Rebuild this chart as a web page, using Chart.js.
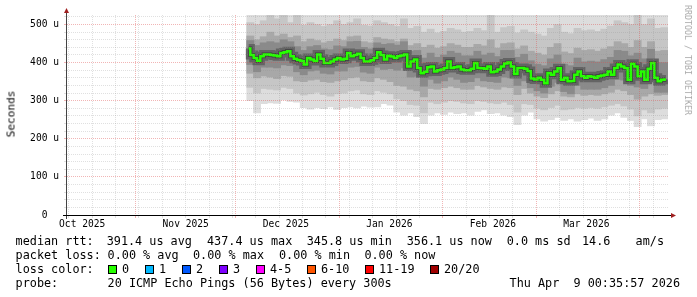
<!DOCTYPE html>
<html>
<head>
<meta charset="utf-8">
<title>SmokePing latency</title>
<script src="https://cdn.jsdelivr.net/npm/chart.js@4.4.1/dist/chart.umd.min.js"></script>
<style>
body { margin: 0; background: #fff; }
#wrap { position: relative; width: 697px; height: 297px; overflow: hidden; background: #fff;
        font-family: 'DejaVu Sans Mono', monospace; color: #000; }
#chart { position: absolute; left: 0; top: 0; }
.t { position: absolute; white-space: pre; font-size: 11.8px; line-height: 14px; }
.box { position: absolute; width: 7px; height: 7px; border: 1px solid #000; }
#ylabel { position: absolute; left: 11px; top: 114px; font-size: 11.1px; white-space: pre; color: #000;
          transform: translate(-50%, -50%) rotate(-90deg); }
#credit { position: absolute; left: 688px; top: 60px; font-size: 8.3px; color: #aaa; white-space: pre;
          transform: translate(-50%, -50%) rotate(90deg); }
</style>
</head>
<body>
<div id="wrap">
  <canvas id="chart" width="697" height="297"></canvas>
  <div id="ylabel">Seconds</div>
  <div id="credit">RRDTOOL / TOBI OETIKER</div>
</div>
<script>
// x values are days since 1 Oct 2025 (local time), the graph shows 180 days
const xMin = 10.45;
const xMax = 190.45;
const yMax = 525; // us, upper limit of the graph

const monthStarts = [31, 61, 92, 123, 151, 182];
const weekStarts = [11, 18, 25, 32, 39, 46, 53, 60, 67, 74, 81, 88, 95, 102, 109, 116,
                    130, 137, 144, 158, 165, 172, 179, 186];
const monthLabelDays = [15, 46, 76, 107, 138, 166];
const monthLabels = ['Oct 2025', 'Nov 2025', 'Dec 2025', 'Jan 2026', 'Feb 2026', 'Mar 2026'];
const yGridValues = [0, 20, 40, 60, 80, 100, 120, 140, 160, 180, 200, 220, 240, 260, 280,
                     300, 320, 340, 360, 380, 400, 420, 440, 460, 480, 500, 520];
const yLabelValues = [0, 100, 200, 300, 400, 500];

// median rtt (us), one sample per day starting 4 Dec 2025
const medianFirstDay = 64.86;
const median = [
  437, 420, 412, 405, 417, 421, 421, 420, 419, 417,
  425, 427, 430, 417, 410, 407, 404, 395, 412, 408,
  404, 421, 410, 399, 399, 403, 408, 412, 408, 410,
  425, 417, 420, 423, 412, 403, 403, 406, 412, 427,
  420, 408, 418, 416, 412, 417, 419, 421, 390, 403,
  408, 386, 372, 376, 388, 390, 377, 380, 382, 386,
  403, 386, 388, 390, 382, 380, 380, 384, 399, 386,
  385, 384, 390, 375, 377, 382, 390, 398, 400, 390,
  370, 386, 386, 384, 378, 358, 356, 360, 355, 346,
  373, 368, 377, 385, 355, 360, 351, 352, 368, 377,
  364, 360, 364, 363, 360, 364, 366, 368, 377, 368,
  386, 395, 390, 386, 355, 397, 390, 364, 377, 355,
  384, 399, 360, 351, 355, 356
];

// smoke (spread of the 20 pings, us), one column per two days
const smokeFirstDay = 65.36;
const pingMin = [
  300, 268, 292, 294, 293, 302, 298, 296, 282, 278,
  282, 279, 284, 277, 282, 284, 281, 286, 283, 284,
  292, 288, 270, 262, 268, 258, 240, 262, 268, 264,
  270, 266, 268, 262, 272, 276, 266, 268, 262, 258,
  237, 262, 270, 252, 246, 250, 256, 248, 252, 246,
  250, 254, 248, 252, 262, 268, 256, 248, 232, 252,
  234, 250, 252
];
const outerLow = [
  335, 320, 332, 330, 328, 335, 332, 320, 315, 318,
  322, 316, 312, 318, 320, 326, 328, 318, 316, 326,
  322, 318, 305, 300, 290, 288, 268, 296, 292, 296,
  300, 298, 294, 292, 300, 298, 294, 292, 296, 290,
  270, 292, 290, 280, 276, 282, 288, 276, 278, 282,
  280, 282, 280, 284, 288, 292, 286, 278, 260, 276,
  268, 278, 280
];
const outerHigh = [
  505, 500, 510, 525, 515, 525, 505, 525, 498, 505,
  500, 495, 500, 510, 500, 505, 515, 498, 496, 510,
  505, 500, 495, 515, 490, 495, 480, 488, 478, 482,
  490, 486, 480, 482, 490, 484, 525, 480, 492, 495,
  478, 486, 480, 475, 470, 490, 500, 480, 476, 490,
  484, 486, 482, 488, 496, 510, 505, 500, 525, 500,
  515, 490, 492
];
const midLow = [
  372, 360, 365, 362, 358, 366, 364, 352, 350, 354,
  356, 350, 348, 352, 355, 360, 362, 352, 350, 360,
  356, 350, 340, 338, 330, 326, 310, 332, 330, 334,
  338, 334, 330, 330, 340, 336, 332, 330, 336, 334,
  316, 332, 320, 312, 308, 318, 326, 312, 310, 318,
  314, 316, 314, 318, 322, 330, 326, 316, 304, 312,
  318, 314, 316
];
const midHigh = [
  470, 460, 468, 480, 470, 475, 466, 470, 455, 462,
  458, 452, 456, 462, 458, 468, 470, 455, 452, 466,
  462, 460, 455, 462, 445, 450, 440, 446, 438, 442,
  450, 446, 440, 440, 448, 444, 460, 438, 450, 452,
  436, 444, 430, 425, 420, 440, 450, 428, 424, 438,
  432, 434, 430, 436, 442, 455, 450, 440, 458, 440,
  455, 430, 432
];
const innerLow = [
  395, 376, 388, 388, 386, 394, 392, 376, 368, 378,
  380, 372, 370, 378, 378, 388, 390, 375, 372, 388,
  382, 384, 380, 386, 362, 364, 338, 356, 346, 352,
  362, 356, 348, 350, 360, 352, 350, 348, 362, 360,
  340, 352, 334, 326, 320, 338, 348, 324, 318, 340,
  330, 330, 330, 334, 340, 356, 354, 340, 336, 332,
  354, 322, 322
];
const innerHigh = [
  458, 445, 452, 455, 452, 460, 455, 442, 432, 442,
  445, 436, 434, 444, 442, 455, 456, 440, 436, 452,
  448, 450, 446, 455, 430, 432, 412, 425, 414, 420,
  430, 425, 418, 418, 430, 420, 425, 416, 432, 432,
  414, 422, 405, 396, 392, 410, 420, 396, 392, 412,
  402, 404, 402, 408, 414, 432, 430, 418, 425, 410,
  435, 400, 400
];

const rttStats = ['median rtt:', '391.4 us avg', '437.4 us max', '345.8 us min',
                  '356.1 us now', '0.0 ms sd', '14.6', 'am/s'];
const lossStats = ['packet loss:', '0.00 % avg', '0.00 % max', '0.00 % min', '0.00 % now'];
const lossColorLabels = ['0', '1', '2', '3', '4-5', '6-10', '11-19', '20/20'];
const lossColors = ['#26ff00', '#00b8ff', '#0059ff', '#7e00ff', '#ff00fe', '#ff5500', '#ff0000', '#a00000'];
const probeText = '20 ICMP Echo Pings (56 Bytes) every 300s';
const stampText = 'Thu Apr  9 00:35:57 2026';

const minorGrid = 'rgba(143,143,143,0.28)';
const majorGrid = 'rgba(222,79,79,0.42)';
const monoFont = { family: "'DejaVu Sans Mono'", size: 9.6 };

const xTicks = []
  .concat(weekStarts.map(v => ({ value: v, kind: 'week' })))
  .concat(monthStarts.map(v => ({ value: v, kind: 'month' })))
  .concat(monthLabelDays.map((v, i) => ({ value: v, kind: 'label', text: monthLabels[i] })))
  .sort((a, b) => a.value - b.value);

const medianPts = median.map((v, i) => ({ x: medianFirstDay + i, y: v }));
function band(lo, hi) {
  return lo.map((v, k) => ({ x: smokeFirstDay + 2 * k, y: [v, Array.isArray(hi) ? hi[k] : hi] }));
}
function smokeBar(data, color, order) {
  // one column = two days (about 6.7 px), slightly wider so neighbours overlap
  return { type: 'bar', data: data, backgroundColor: color, borderWidth: 0, grouped: false,
           barThickness: 7.2, order: order };
}
function medianLine(color, width, order) {
  return { type: 'line', data: medianPts, borderColor: color, borderWidth: width, pointRadius: 0,
           stepped: 'middle', fill: false, borderJoinStyle: 'miter', borderCapStyle: 'butt', order: order };
}

const axisArrows = {
  id: 'axisArrows',
  afterDraw(chart) {
    const { ctx, chartArea: a } = chart;
    ctx.save();
    ctx.lineWidth = 1;
    ctx.strokeStyle = '#444';
    ctx.beginPath();
    ctx.moveTo(a.left - 0.5, a.bottom + 4);
    ctx.lineTo(a.left - 0.5, a.top - 2);
    ctx.stroke();
    ctx.strokeStyle = '#000';
    ctx.beginPath();
    ctx.moveTo(a.left - 4, a.bottom + 0.5);
    ctx.lineTo(a.right + 3, a.bottom + 0.5);
    ctx.stroke();
    ctx.fillStyle = '#a02020';
    ctx.beginPath();
    ctx.moveTo(a.right + 8, a.bottom + 0.5);
    ctx.lineTo(a.right + 3, a.bottom - 2);
    ctx.lineTo(a.right + 3, a.bottom + 3);
    ctx.closePath();
    ctx.fill();
    ctx.beginPath();
    ctx.moveTo(a.left - 0.5, a.top - 7);
    ctx.lineTo(a.left - 3, a.top - 2);
    ctx.lineTo(a.left + 2, a.top - 2);
    ctx.closePath();
    ctx.fill();
    ctx.restore();
  }
};

new Chart(document.getElementById('chart'), {
  type: 'bar',
  data: {
    datasets: [
      medianLine('#26ff00', 2.5, 0),
      medianLine('#3c3c3c', 4, 1),
      medianLine('#646464', 9, 2),
      smokeBar(band(innerLow, innerHigh), '#8a8a8a', 3),
      smokeBar(band(midLow, midHigh), '#a8a8a8', 4),
      smokeBar(band(outerLow, outerHigh), '#c6c6c6', 5),
      smokeBar(band(pingMin, yMax), '#dddddd', 6)
    ]
  },
  options: {
    responsive: false,
    animation: false,
    events: [],
    layout: { padding: { left: 0, top: 15, right: 29, bottom: 62 } },
    plugins: { legend: { display: false }, tooltip: { enabled: false } },
    scales: {
      x: {
        type: 'linear', min: xMin, max: xMax, offset: false,
        afterBuildTicks: s => { s.ticks = xTicks.map(t => Object.assign({}, t)); },
        afterFit: s => { s.height = 20; },
        grid: {
          offset: false, z: 1, lineWidth: 1, tickLength: 3,
          color: c => !c.tick ? minorGrid : c.tick.kind === 'month' ? majorGrid
                      : c.tick.kind === 'week' ? minorGrid : 'rgba(0,0,0,0)'
        },
        border: { display: false, dash: [1, 1] },
        ticks: {
          autoSkip: false, maxRotation: 0, minRotation: 0, padding: 1, color: '#000', font: monoFont,
          callback: (v, i, ticks) => ticks[i].text || ''
        }
      },
      y: {
        type: 'linear', min: 0, max: yMax, stacked: false,
        afterBuildTicks: s => { s.ticks = yGridValues.map(v => ({ value: v })); },
        afterFit: s => { s.width = 67; },
        grid: {
          z: 1, lineWidth: 1, tickLength: 3,
          color: c => c.tick && c.tick.value % 100 === 0 ? majorGrid : minorGrid
        },
        border: { display: false, dash: [1, 1] },
        ticks: {
          autoSkip: false, padding: 5, color: '#000', font: monoFont,
          callback: v => yLabelValues.includes(v) ? (v === 0 ? '0  ' : v + ' u') : ''
        }
      }
    }
  },
  plugins: [axisArrows]
});

// legend / statistics block under the graph
const wrap = document.getElementById('wrap');
function put(text, left, top, right) {
  const d = document.createElement('div');
  d.className = 't';
  d.textContent = text;
  if (right !== undefined) d.style.right = right + 'px'; else d.style.left = left + 'px';
  d.style.top = top + 'px';
  wrap.appendChild(d);
}
const rttX = [15.6, 106.7, 207, 306.7, 406.7, 506.7, 582, 635.6];
rttStats.forEach((s, i) => put(s, rttX[i], 233.5));
const lossX = [15.6, 107.6, 193, 279, 364.4];
lossStats.forEach((s, i) => put(s, lossX[i], 247.5));
put('loss color:', 15.6, 261.5);
const boxX = [108, 145, 182, 219, 256, 307, 365, 430];
lossColorLabels.forEach((s, i) => {
  const b = document.createElement('div');
  b.className = 'box';
  b.style.left = boxX[i] + 'px';
  b.style.top = '264.5px';
  b.style.background = lossColors[i];
  wrap.appendChild(b);
  put(s, boxX[i] + 14, 261.5);
});
put('probe:', 15.6, 275.5);
put(probeText, 107.6, 275.5);
put(stampText, 0, 275.5, 17);
</script>
</body>
</html>
